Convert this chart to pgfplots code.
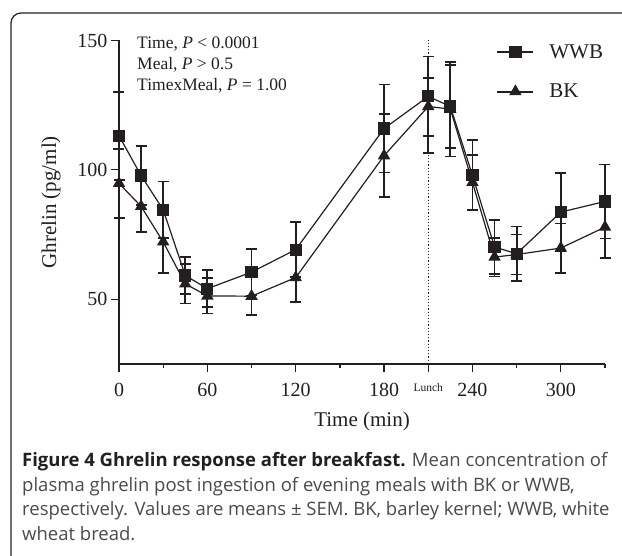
\documentclass[border=0pt]{standalone}
\usepackage{pgfplots}
\pgfplotsset{compat=1.18}
\usepackage{pgfplotstable}
\usepackage{fontspec}
\setmainfont{Liberation Serif}
\newfontfamily\capfont{Open Sans}
\definecolor{ink}{HTML}{231F20}
\definecolor{capgray}{HTML}{4A4A4C}

% t  mean  +err  -err   (pg/ml)
\pgfplotstableread{
t   y      ep    em
0   113.2  17.0  17.0
15  97.8   11.3  11.3
30  84.6   10.9  10.9
45  59.2   7.1   7.1
60  54.1   7.1   7.1
90  60.5   9.0   9.0
120 69.2   10.6  10.6
180 116.0  17.0  17.0
210 128.4  15.4  15.4
225 124.5  16.0  16.0
240 97.9   13.5  13.5
255 70.2   10.3  10.3
270 67.6   10.5  10.5
300 83.7   15.0  15.0
330 87.8   14.3  14.3
}\wwb

\pgfplotstableread{
t   y      ep    em
0   94.8   13.3  13.3
15  85.9   10.0  10.0
30  72.2   12.0  12.0
45  56.0   7.6   7.6
60  51.3   6.8   6.8
90  51.2   7.4   7.4
120 58.4   9.4   9.4
180 105.5  16.0  16.0
210 124.5  11.0  18.0
225 123.5  18.3  18.3
240 95.2   10.5  10.5
255 66.3   7.5   7.5
270 67.3   7.7   7.7
300 69.8   9.5   9.5
330 77.9   12.0  12.0
}\bk

\begin{document}
\begin{tikzpicture}[x=1pt,y=1pt]
\useasboundingbox (0,0) rectangle (622,555);
\draw[ink, line width=1.2pt, rounded corners=10pt] (11,-30) rectangle (660,542);

\begin{axis}[
  at={(119pt,191pt)}, anchor=south west,
  scale only axis, width=486pt, height=323.5pt,
  xmin=0, xmax=330, ymin=25, ymax=150,
  axis x line*=bottom, axis y line*=left,
  axis line style={ink, line width=1.2pt},
  xtick={0,60,120,180,240,300},
  minor xtick={30,90,150,270,330},
  extra x ticks={210},
  extra x tick labels={Lunch},
  extra x tick style={tick label style={font=\fontsize{11.5}{12}\selectfont}},
  ytick={50,100,150},
  tick align=outside,
  major tick length=8pt, minor tick length=4pt,
  tick style={ink, line width=1.2pt},
  ticklabel style={font=\fontsize{20}{24}\selectfont, text=ink},
  xticklabel style={yshift=-8pt},
  /pgf/number format/assume math mode=true,
  xlabel={Time (min)}, ylabel={Ghrelin (pg/ml)},
  label style={font=\fontsize{21}{24}\selectfont, text=ink},
  xlabel style={at={(rel axis cs:0.5,0)}, anchor=center, yshift=-57pt},
  ylabel style={at={(rel axis cs:0,0.5)}, anchor=center, yshift=68pt},
  clip=false,
  reverse legend,
  legend style={at={(rel axis cs:0.77,1.0)}, anchor=north west,
    draw=none, fill=none, font=\fontsize{21}{24}\selectfont, text=ink,
    row sep=20pt, column sep=13pt},
  legend cell align=left,
  legend image code/.code={
    \draw[#1, mark=none, line width=2pt] (0pt,0pt) -- (36pt,0pt);
    \draw[#1, only marks] plot coordinates {(18pt,0pt)};
  },
  every axis plot/.append style={ink, line width=1.2pt},
  error bars/y dir=both, error bars/y explicit,
  error bars/error bar style={line width=1.8pt, ink},
  error bars/error mark options={rotate=90, mark size=5.5pt, line width=1.8pt, ink},
]
\addplot[ink, dotted, line width=1.2pt, forget plot] coordinates {(210,25) (210,150)};

\addplot[mark=triangle*, mark size=6pt, mark options={solid, fill=ink}]
  table[x=t, y=y, y error plus=ep, y error minus=em] {\bk};
\addlegendentry{BK}

\addplot[mark=square*, mark size=5.5pt, mark options={solid, fill=ink}]
  table[x=t, y=y, y error plus=ep, y error minus=em] {\wwb};
\addlegendentry{WWB}
\end{axis}

\begin{scope}[every node/.style={anchor=base west, inner sep=0pt, text=ink,
    font=\fontsize{17.5}{20}\selectfont}]
\node at (137,506.3) {Time, \textit{P} < 0.0001};
\node at (137,485.6) {Meal, \textit{P} > 0.5};
\node at (137,464.9) {TimexMeal, \textit{P} = 1.00};
\end{scope}

\begin{scope}[every node/.style={anchor=base west, inner sep=0pt, text=capgray,
    font=\capfont\fontsize{18.5}{22}\selectfont}]
\node at (22,88.3) {\textbf{\textcolor{ink}{Figure 4 Ghrelin response after breakfast.}} Mean concentration of};
\node at (22,63.8) {plasma ghrelin post ingestion of evening meals with BK or WWB,};
\node at (22,39.3) {respectively. Values are means ± SEM. BK, barley kernel; WWB, white};
\node at (22,14.8) {wheat bread.};
\end{scope}
\end{tikzpicture}
\end{document}
